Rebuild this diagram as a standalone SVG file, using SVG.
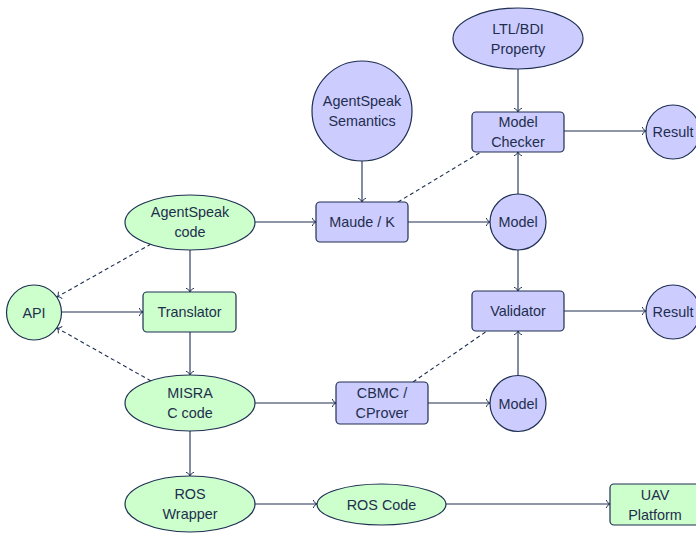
<svg xmlns="http://www.w3.org/2000/svg" width="696" height="533" viewBox="0 0 696 533">
  <defs>
    <marker id="to" viewBox="-6 -5 8 10" markerWidth="8" markerHeight="10" refX="0" refY="0" orient="auto" markerUnits="userSpaceOnUse">
      <path d="M-3.6,-3.6 C-2.6,-1.4 -1.2,-0.3 0,0 C-1.2,0.3 -2.6,1.4 -3.6,3.6" fill="none" stroke="#1e2f52" stroke-width="1" stroke-linecap="round"/>
    </marker>
    <style>
      .green { fill: #ccffcc; stroke: #1e2f52; stroke-width: 1.2; }
      .blue { fill: #ccccff; stroke: #1e2f52; stroke-width: 1.2; }
      .lbl { font-family: "Liberation Sans", Arial, sans-serif; font-size: 14.4px; fill: #1f2e4d; text-anchor: middle; dominant-baseline: central; }
      .edge { fill: none; stroke: #1e2f52; stroke-width: 1.1; marker-end: url(#to); }
      .dash { fill: none; stroke: #1e2f52; stroke-width: 1.1; stroke-dasharray: 4 3; }
    </style>
  </defs>
  <rect width="696" height="533" fill="#ffffff"/>

  <!-- connectors -->
  <g id="connectors">
    <line class="edge" x1="255" y1="222" x2="316" y2="222"/>
    <line class="edge" x1="190" y1="250" x2="190" y2="292"/>
    <line class="edge" x1="190" y1="332" x2="190" y2="375"/>
    <line class="edge" x1="190" y1="431" x2="190" y2="476"/>
    <line class="edge" x1="62" y1="312" x2="143" y2="312"/>
    <line class="dash" x1="151" y1="244" x2="57" y2="297" marker-end="url(#to)"/>
    <line class="dash" x1="151" y1="381" x2="57" y2="328" marker-end="url(#to)"/>
    <line class="edge" x1="362" y1="161" x2="362" y2="202"/>
    <line class="edge" x1="408" y1="222" x2="490" y2="222"/>
    <line class="edge" x1="518" y1="194" x2="518" y2="152"/>
    <line class="edge" x1="518" y1="69" x2="518" y2="112"/>
    <line class="edge" x1="564" y1="131" x2="646" y2="131"/>
    <line class="dash" x1="398" y1="202" x2="481" y2="152"/>
    <line class="edge" x1="518" y1="250" x2="518" y2="291"/>
    <line class="edge" x1="564" y1="311" x2="646" y2="311"/>
    <line class="edge" x1="518" y1="376" x2="518" y2="331"/>
    <line class="dash" x1="413" y1="382" x2="487" y2="331"/>
    <line class="edge" x1="255" y1="403" x2="336" y2="403"/>
    <line class="edge" x1="428" y1="403" x2="490" y2="403"/>
    <line class="edge" x1="255" y1="504" x2="317" y2="504"/>
    <line class="edge" x1="446" y1="504" x2="610" y2="504"/>
  </g>

  <!-- code pipeline (green) -->
  <g id="agentspeak-code">
    <ellipse class="green" cx="190" cy="222.5" rx="65" ry="27.5"/>
    <text class="lbl" x="190" y="212">AgentSpeak</text>
    <text class="lbl" x="190" y="232">code</text>
  </g>
  <g id="api">
    <circle class="green" cx="34" cy="312.5" r="27.5"/>
    <text class="lbl" x="34" y="312.5">API</text>
  </g>
  <g id="translator">
    <rect class="green" x="143" y="292" width="93" height="40" rx="4"/>
    <text class="lbl" x="189.5" y="312">Translator</text>
  </g>
  <g id="misra-c-code">
    <ellipse class="green" cx="190" cy="403" rx="65" ry="28"/>
    <text class="lbl" x="190" y="393">MISRA</text>
    <text class="lbl" x="190" y="413">C code</text>
  </g>
  <g id="ros-wrapper">
    <ellipse class="green" cx="190" cy="504" rx="65" ry="28"/>
    <text class="lbl" x="190" y="494">ROS</text>
    <text class="lbl" x="190" y="514">Wrapper</text>
  </g>
  <g id="ros-code">
    <ellipse class="green" cx="381.5" cy="504.5" rx="64.5" ry="20.5"/>
    <text class="lbl" x="381.5" y="504.5">ROS Code</text>
  </g>
  <g id="uav-platform">
    <rect class="green" x="610" y="484" width="90" height="41" rx="4"/>
    <text class="lbl" x="655" y="495">UAV</text>
    <text class="lbl" x="655" y="515">Platform</text>
  </g>

  <!-- verification (blue) -->
  <g id="agentspeak-semantics">
    <circle class="blue" cx="362" cy="111" r="50"/>
    <text class="lbl" x="362" y="101">AgentSpeak</text>
    <text class="lbl" x="362" y="121">Semantics</text>
  </g>
  <g id="maude-k">
    <rect class="blue" x="316" y="202" width="92" height="40" rx="4"/>
    <text class="lbl" x="362" y="222">Maude / K</text>
  </g>
  <g id="ltl-bdi-property">
    <ellipse class="blue" cx="518" cy="38.5" rx="65" ry="30.5"/>
    <text class="lbl" x="518" y="28.5">LTL/BDI</text>
    <text class="lbl" x="518" y="48.5">Property</text>
  </g>
  <g id="model-checker">
    <rect class="blue" x="472" y="112" width="92" height="40" rx="4"/>
    <text class="lbl" x="518" y="122">Model</text>
    <text class="lbl" x="518" y="142">Checker</text>
  </g>
  <g id="result-top">
    <circle class="blue" cx="673" cy="132" r="27"/>
    <text class="lbl" x="673" y="132">Result</text>
  </g>
  <g id="model-top">
    <circle class="blue" cx="518" cy="222" r="28"/>
    <text class="lbl" x="518" y="222">Model</text>
  </g>
  <g id="validator">
    <rect class="blue" x="472" y="291" width="92" height="40" rx="4"/>
    <text class="lbl" x="518" y="311">Validator</text>
  </g>
  <g id="result-bottom">
    <circle class="blue" cx="673" cy="312" r="27"/>
    <text class="lbl" x="673" y="312">Result</text>
  </g>
  <g id="cbmc-cprover">
    <rect class="blue" x="336" y="382" width="92" height="42" rx="4"/>
    <text class="lbl" x="382" y="393">CBMC /</text>
    <text class="lbl" x="382" y="413">CProver</text>
  </g>
  <g id="model-bottom">
    <circle class="blue" cx="518" cy="403.5" r="28"/>
    <text class="lbl" x="518" y="403.5">Model</text>
  </g>
</svg>
